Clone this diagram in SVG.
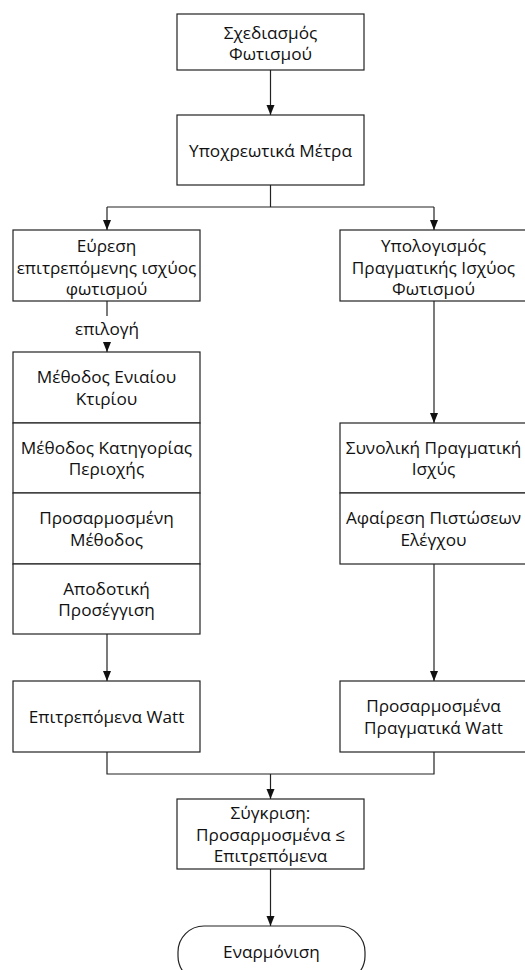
<svg xmlns="http://www.w3.org/2000/svg" width="525" height="970" viewBox="0 0 525 970">
<style>
.box{fill:#fff;stroke:#222;stroke-width:1.2}
.t{font-family:"Open Sans","Noto Sans","DejaVu Sans",sans-serif;font-size:17.2px;fill:#111;text-anchor:middle}
.c{fill:none;stroke:#222;stroke-width:1.2}
</style>
<defs>
<marker id="ah" markerUnits="userSpaceOnUse" markerWidth="10" markerHeight="10" viewBox="0 0 10 10" refX="10" refY="5" orient="auto">
<path d="M0,1 L10,5 L0,9 z" fill="#111"/>
</marker>
</defs>
<rect width="525" height="970" fill="#fff"/>
<g id="connectors">
<line class="c" x1="270.5" y1="70" x2="270.5" y2="115" marker-end="url(#ah)"/>
<polyline class="c" points="270.5,185 270.5,207"/>
<polyline class="c" points="107,207 434,207"/>
<line class="c" x1="107" y1="207" x2="107" y2="230" marker-end="url(#ah)"/>
<line class="c" x1="434" y1="207" x2="434" y2="230" marker-end="url(#ah)"/>
<line class="c" x1="107" y1="301" x2="107" y2="352" marker-end="url(#ah)"/>
<line class="c" x1="434" y1="301" x2="434" y2="423" marker-end="url(#ah)"/>
<line class="c" x1="107" y1="634" x2="107" y2="681" marker-end="url(#ah)"/>
<line class="c" x1="434" y1="564" x2="434" y2="681" marker-end="url(#ah)"/>
<polyline class="c" points="107,752 107,774 434,774 434,752"/>
<line class="c" x1="270.5" y1="774" x2="270.5" y2="799" marker-end="url(#ah)"/>
<line class="c" x1="270.5" y1="869" x2="270.5" y2="926" marker-end="url(#ah)"/>
<g id="label-epilogi">
<rect x="76" y="316" width="62" height="26" fill="#fff"/>
<text class="t" x="107" y="335">επιλογή</text>
</g>
</g>
<g id="n-sxediasmos">
<rect class="box" x="177" y="14" width="187" height="56"/>
<text class="t" x="270.5" y="38.5">Σχεδιασμός</text>
<text class="t" x="270.5" y="60">Φωτισμού</text>
</g>
<g id="n-ypoxreotika">
<rect class="box" x="177" y="115" width="187" height="70"/>
<text class="t" x="270.5" y="157">Υποχρεωτικά Μέτρα</text>
</g>
<g id="n-evresi">
<rect class="box" x="13" y="230" width="187" height="71"/>
<text class="t" x="106.5" y="252">Εύρεση</text>
<text class="t" x="106.5" y="273.5">επιτρεπόμενης ισχύος</text>
<text class="t" x="106.5" y="295">φωτισμού</text>
</g>
<g id="n-ypologismos">
<rect class="box" x="340" y="230" width="187" height="71"/>
<text class="t" x="433.5" y="252">Υπολογισμός</text>
<text class="t" x="433.5" y="273.5">Πραγματικής Ισχύος</text>
<text class="t" x="433.5" y="295">Φωτισμού</text>
</g>
<g id="n-eniaiou">
<rect class="box" x="13" y="352" width="187" height="71"/>
<text class="t" x="106.5" y="383">Μέθοδος Ενιαίου</text>
<text class="t" x="106.5" y="404.5">Κτιρίου</text>
</g>
<g id="n-katigorias">
<rect class="box" x="13" y="423" width="187" height="70"/>
<text class="t" x="106.5" y="453.5">Μέθοδος Κατηγορίας</text>
<text class="t" x="106.5" y="475">Περιοχής</text>
</g>
<g id="n-prosarmosmeni">
<rect class="box" x="13" y="493" width="187" height="71"/>
<text class="t" x="106.5" y="524">Προσαρμοσμένη</text>
<text class="t" x="106.5" y="545.5">Μέθοδος</text>
</g>
<g id="n-apodotiki">
<rect class="box" x="13" y="564" width="187" height="70"/>
<text class="t" x="106.5" y="594.5">Αποδοτική</text>
<text class="t" x="106.5" y="616">Προσέγγιση</text>
</g>
<g id="n-synoliki">
<rect class="box" x="340" y="423" width="187" height="70"/>
<text class="t" x="433.5" y="453.5">Συνολική Πραγματική</text>
<text class="t" x="433.5" y="475">Ισχύς</text>
</g>
<g id="n-afairesi">
<rect class="box" x="340" y="493" width="187" height="71"/>
<text class="t" x="433.5" y="524">Αφαίρεση Πιστώσεων</text>
<text class="t" x="433.5" y="545.5">Ελέγχου</text>
</g>
<g id="n-epitrepomena">
<rect class="box" x="13" y="681" width="187" height="71"/>
<text class="t" x="106.5" y="722.5">Επιτρεπόμενα Watt</text>
</g>
<g id="n-prosarmosmena">
<rect class="box" x="340" y="681" width="187" height="71"/>
<text class="t" x="433.5" y="712">Προσαρμοσμένα</text>
<text class="t" x="433.5" y="733.5">Πραγματικά Watt</text>
</g>
<g id="n-sygkrisi">
<rect class="box" x="177" y="799" width="187" height="70"/>
<text class="t" x="270.5" y="819">Σύγκριση:</text>
<text class="t" x="270.5" y="840.5">Προσαρμοσμένα ≤</text>
<text class="t" x="270.5" y="862">Επιτρεπόμενα</text>
</g>
<g id="n-enarmonisi">
<rect class="box" x="178" y="926" width="187" height="56" rx="26" ry="26"/>
<text class="t" x="271.5" y="958">Εναρμόνιση</text>
</g>
</svg>
